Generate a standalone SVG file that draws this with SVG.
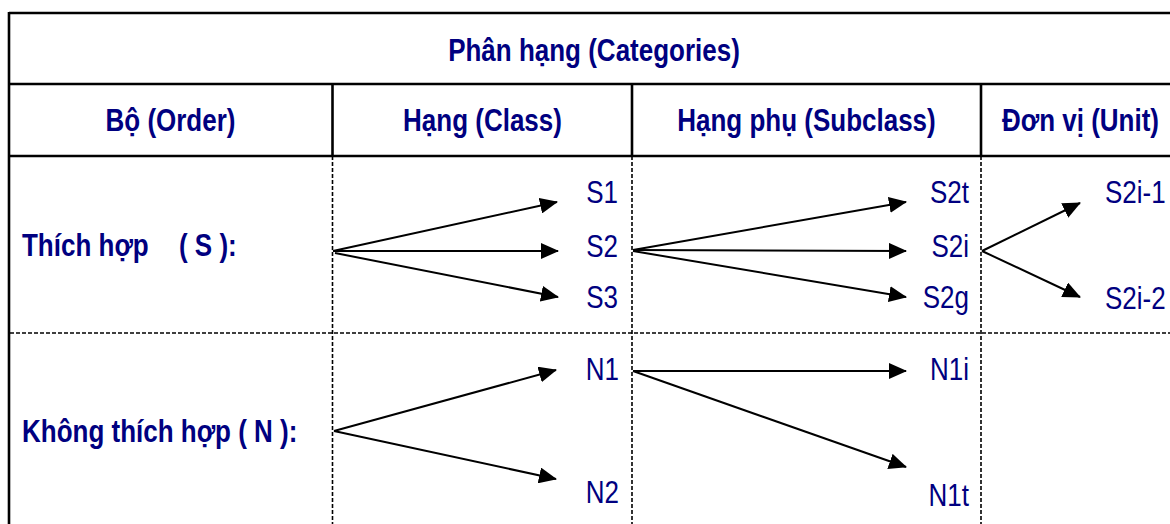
<svg xmlns="http://www.w3.org/2000/svg" width="1170" height="524" viewBox="0 0 1170 524">
  <style>
    .hd { font-family: "Liberation Sans", Arial, sans-serif; font-size: 26px; font-weight: bold; fill: #000080; }
    .lb { font-family: "Liberation Sans", Arial, sans-serif; font-size: 26px; fill: #000080; }
    .solid { stroke: #000; stroke-width: 2.6; fill: none; }
    .dash { stroke: #000; stroke-width: 1.6; stroke-dasharray: 4 2; fill: none; }
    .arr { stroke: #000; stroke-width: 2; fill: none; marker-end: url(#head); }
  </style>
  <defs>
    <marker id="head" viewBox="0 0 18 16" refX="17" refY="8" markerWidth="18" markerHeight="16" markerUnits="userSpaceOnUse" orient="auto">
      <path d="M0,0 L18,8 L0,16 z" fill="#000"/>
    </marker>
  </defs>
  <rect width="1170" height="524" fill="#fff"/>

  <!-- table grid -->
  <g id="grid">
    <line class="solid" x1="9" y1="13" x2="1170" y2="13"/>
    <line class="solid" x1="9" y1="84" x2="1170" y2="84"/>
    <line class="solid" x1="9" y1="156" x2="1170" y2="156"/>
    <line class="solid" x1="9" y1="12" x2="9" y2="524"/>
    <line class="solid" x1="332.5" y1="84" x2="332.5" y2="156"/>
    <line class="solid" x1="632" y1="84" x2="632" y2="156"/>
    <line class="solid" x1="981" y1="84" x2="981" y2="156"/>
    <line class="dash" x1="332.5" y1="156" x2="332.5" y2="524"/>
    <line class="dash" x1="632" y1="156" x2="632" y2="524"/>
    <line class="dash" x1="981" y1="156" x2="981" y2="524"/>
    <line class="dash" x1="10" y1="333" x2="1170" y2="333"/>
  </g>

  <!-- header cells -->
  <g id="title"><text class="hd" text-anchor="middle" transform="translate(594 61) scale(1 1.18)">Phân hạng (Categories)</text></g>
  <g id="col-order"><text class="hd" text-anchor="middle" transform="translate(170.5 131) scale(1 1.18)">Bộ (Order)</text></g>
  <g id="col-class"><text class="hd" text-anchor="middle" transform="translate(482.5 131) scale(1 1.18)">Hạng (Class)</text></g>
  <g id="col-subclass"><text class="hd" text-anchor="middle" transform="translate(806.5 131) scale(1 1.18)">Hạng phụ (Subclass)</text></g>
  <g id="col-unit"><text class="hd" text-anchor="middle" transform="translate(1080.5 131) scale(1 1.18)">Đơn vị (Unit)</text></g>

  <!-- order labels -->
  <g id="order-S"><text class="hd" transform="translate(22 256) scale(1 1.18)">Thích hợp <tspan x="157">( S ):</tspan></text></g>
  <g id="order-N"><text class="hd" transform="translate(22 442) scale(1 1.18)">Không thích hợp ( N ):</text></g>

  <!-- class nodes -->
  <g id="S1"><text class="lb" text-anchor="end" transform="translate(618 203) scale(1 1.18)">S1</text></g>
  <g id="S2"><text class="lb" text-anchor="end" transform="translate(618 257) scale(1 1.18)">S2</text></g>
  <g id="S3"><text class="lb" text-anchor="end" transform="translate(618 308) scale(1 1.18)">S3</text></g>
  <g id="N1"><text class="lb" text-anchor="end" transform="translate(619 380) scale(1 1.18)">N1</text></g>
  <g id="N2"><text class="lb" text-anchor="end" transform="translate(619 503) scale(1 1.18)">N2</text></g>

  <!-- subclass nodes -->
  <g id="S2t"><text class="lb" text-anchor="end" transform="translate(969 203) scale(1 1.18)">S2t</text></g>
  <g id="S2i"><text class="lb" text-anchor="end" transform="translate(969 257) scale(1 1.18)">S2i</text></g>
  <g id="S2g"><text class="lb" text-anchor="end" transform="translate(969 308) scale(1 1.18)">S2g</text></g>
  <g id="N1i"><text class="lb" text-anchor="end" transform="translate(969 380) scale(1 1.18)">N1i</text></g>
  <g id="N1t"><text class="lb" text-anchor="end" transform="translate(969 506) scale(1 1.18)">N1t</text></g>

  <!-- unit nodes -->
  <g id="S2i-1"><text class="lb" transform="translate(1105 203) scale(1 1.18)">S2i-1</text></g>
  <g id="S2i-2"><text class="lb" transform="translate(1105 309) scale(1 1.18)">S2i-2</text></g>

  <!-- connectors -->
  <g id="connectors">
    <line class="arr" x1="333" y1="251" x2="557" y2="202"/>
    <line class="arr" x1="333" y1="251" x2="558" y2="251"/>
    <line class="arr" x1="335" y1="253" x2="558" y2="297"/>
    <line class="arr" x1="633" y1="250" x2="906" y2="202"/>
    <line class="arr" x1="633" y1="250" x2="906" y2="251"/>
    <line class="arr" x1="633" y1="251" x2="906" y2="297"/>
    <line class="arr" x1="982" y1="251" x2="1080" y2="203"/>
    <line class="arr" x1="982" y1="251" x2="1080" y2="297"/>
    <line class="arr" x1="334" y1="431" x2="556" y2="370"/>
    <line class="arr" x1="334" y1="431" x2="556" y2="479"/>
    <line class="arr" x1="633" y1="371" x2="906" y2="371"/>
    <line class="arr" x1="633" y1="371" x2="906" y2="467"/>
  </g>
</svg>
